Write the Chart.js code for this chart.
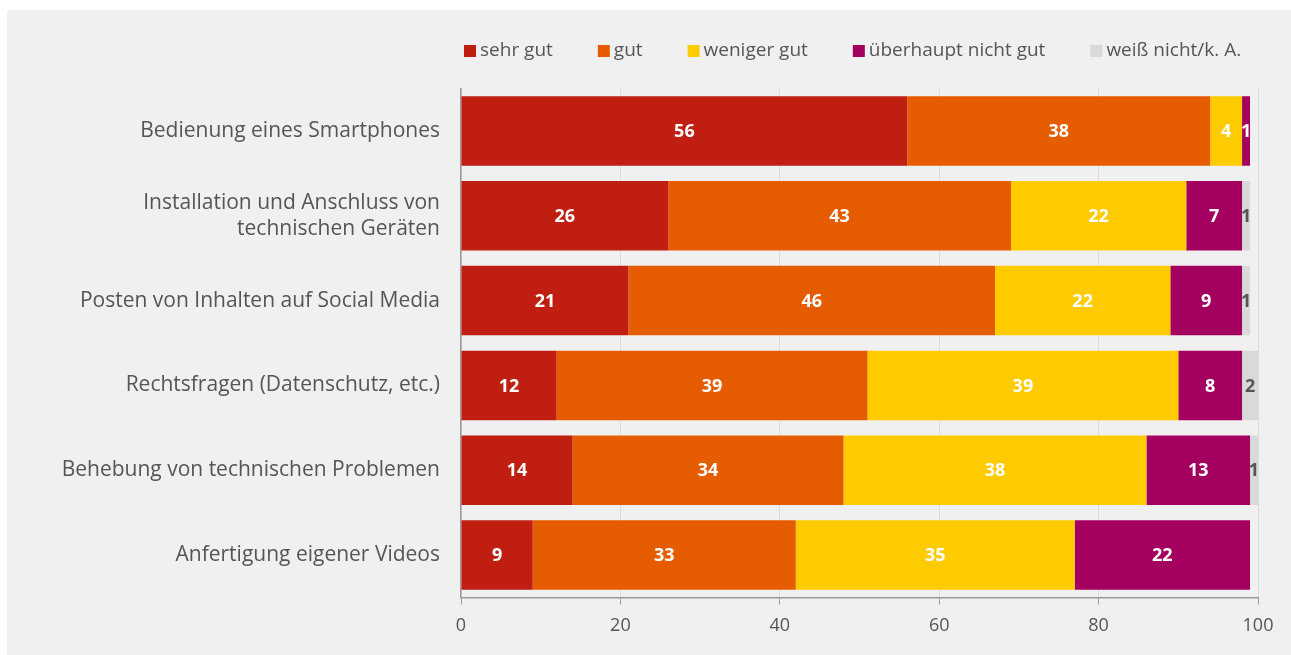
<!DOCTYPE html>
<html lang="de">
<head>
<meta charset="utf-8">
<title>Digitale Kompetenzen – Selbsteinschätzung</title>
<script src="https://cdn.jsdelivr.net/npm/chart.js@4/dist/chart.umd.min.js"></script>
<style>
  html, body { margin: 0; padding: 0; background: #ffffff; overflow: hidden; }
  #panel {
    position: absolute; left: 7px; top: 10px; right: 0; bottom: 0;
    background: #f0f0f0;
  }
  #chart { display: block; }
</style>
</head>
<body>
<div id="panel"><canvas id="chart" width="1284" height="645"></canvas></div>
<script>
// Kategorien (Zeilen) und Anteile in Prozent je Antwortkategorie
const categories = [
  'Bedienung eines Smartphones',
  ['Installation und Anschluss von', 'technischen Geräten'],
  'Posten von Inhalten auf Social Media',
  'Rechtsfragen (Datenschutz, etc.)',
  'Behebung von technischen Problemen',
  'Anfertigung eigener Videos'
];
const seriesNames = ['sehr gut', 'gut', 'weniger gut', 'überhaupt nicht gut', 'weiß nicht/k. A.'];
const sehrGut         = [56, 26, 21, 12, 14, 9];
const gut             = [38, 43, 46, 39, 34, 33];
const wenigerGut      = [4, 22, 22, 39, 38, 35];
const ueberhauptNicht = [1, 7, 9, 8, 13, 22];
const weissNicht      = [0, 1, 1, 2, 1, 0];
const xTickValues     = [0, 20, 40, 60, 80, 100];

const seriesValues = [sehrGut, gut, wenigerGut, ueberhauptNicht, weissNicht];
const seriesColors = ['#bf1e10', '#e65c00', '#fecb00', '#a40060', '#d9d9d9'];
const labelColors  = ['#ffffff', '#ffffff', '#ffffff', '#ffffff', '#555555'];

const FONT = "'Open Sans', 'Noto Sans', sans-serif";
const TEXT = '#555555';

// Legende oberhalb der Zeichenfläche, linksbündig an der Achse
const topLegend = {
  id: 'topLegend',
  afterDraw(chart) {
    const ctx = chart.ctx;
    const area = chart.chartArea;
    ctx.save();
    ctx.font = '19px ' + FONT;
    ctx.textBaseline = 'middle';
    ctx.textAlign = 'left';
    let x = area.left + 3;
    const y = 41;
    chart.data.datasets.forEach(ds => {
      ctx.fillStyle = ds.backgroundColor;
      ctx.fillRect(x, y - 6, 12, 12);
      x += 16;
      ctx.fillStyle = TEXT;
      ctx.fillText(ds.label, x, y);
      x += ctx.measureText(ds.label).width + 45;
    });
    ctx.restore();
  }
};

// Wertbeschriftung mittig in jedem Balkensegment
const segmentLabels = {
  id: 'segmentLabels',
  afterDatasetsDraw(chart) {
    const ctx = chart.ctx;
    ctx.save();
    ctx.font = 'bold 18px ' + FONT;
    ctx.textAlign = 'center';
    ctx.textBaseline = 'middle';
    chart.data.datasets.forEach((ds, di) => {
      const meta = chart.getDatasetMeta(di);
      if (meta.hidden) return;
      meta.data.forEach((bar, i) => {
        const v = ds.data[i];
        if (!v) return;
        const p = bar.getProps(['x', 'y', 'base'], true);
        ctx.fillStyle = labelColors[di];
        ctx.fillText(String(v), (p.x + p.base) / 2, p.y + 1);
      });
    });
    ctx.restore();
  }
};

new Chart(document.getElementById('chart'), {
  type: 'bar',
  data: {
    labels: categories,
    datasets: seriesValues.map((vals, i) => ({
      label: seriesNames[i],
      data: vals,
      backgroundColor: seriesColors[i],
      borderWidth: 0,
      categoryPercentage: 1,
      barPercentage: 0.82
    }))
  },
  options: {
    indexAxis: 'y',
    responsive: false,
    animation: false,
    layout: { padding: { top: 78.5, right: 33, bottom: 0, left: 0 } },
    plugins: {
      legend: { display: false },
      tooltip: { enabled: false }
    },
    scales: {
      x: {
        stacked: true,
        min: 0,
        max: 100,
        afterBuildTicks(scale) {
          scale.ticks = xTickValues.map(v => ({ value: v }));
        },
        afterFit(scale) { scale.height = 57.5; },
        grid: {
          color: '#dcdcdc',
          lineWidth: 1,
          tickColor: '#9a9a9a',
          tickLength: 7,
          drawOnChartArea: true
        },
        border: { display: true, color: '#9a9a9a', width: 1.5 },
        ticks: {
          color: TEXT,
          font: { family: FONT, size: 18 },
          padding: 11
        }
      },
      y: {
        stacked: true,
        afterFit(scale) { scale.width = 454; },
        grid: { display: false, drawTicks: false },
        border: { display: true, color: '#9a9a9a', width: 1.5 },
        ticks: {
          color: TEXT,
          font: { family: FONT, size: 21, lineHeight: 1.25 },
          padding: 21
        }
      }
    }
  },
  plugins: [topLegend, segmentLabels]
});
</script>
</body>
</html>
